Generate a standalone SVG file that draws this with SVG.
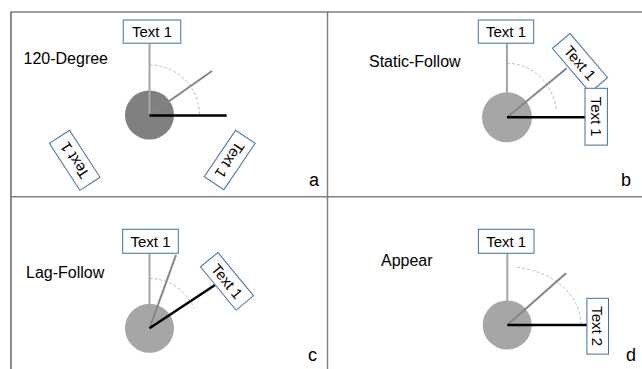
<svg xmlns="http://www.w3.org/2000/svg" width="642" height="369" viewBox="0 0 642 369">
<style>
text{font-family:"Liberation Sans",Arial,sans-serif;fill:#000}
.lbl{font-size:16px}
.tag{font-size:18px}
.bt{font-size:15px;text-anchor:middle}
.box{fill:#fff;stroke:#41719c;stroke-width:1}
.vl{stroke:#a6a6a6;stroke-width:2;fill:none}
.dl{stroke:#858585;stroke-width:2;fill:none}
.bl{stroke:#000;stroke-width:2.5;fill:none}
.arc{stroke:#9dc3e6;stroke-width:1;stroke-dasharray:3 2;fill:none}
.frame{stroke:#404040;stroke-width:1.2;fill:none}
.div{stroke:#808080;stroke-width:1.5;fill:none}
.hub{fill:#a6a6a6}
</style>
<g id="frame">
<path class="frame" d="M11,369 V12 H642"/>
<path class="div" d="M11,196.7 H642 M327.5,12 V369"/>
</g>
<g id="labels">
<text class="lbl" x="23.5" y="64">120-Degree</text>
<text class="lbl" x="369" y="66.5">Static-Follow</text>
<text class="lbl" x="26" y="278">Lag-Follow</text>
<text class="lbl" x="381" y="266">Appear</text>
<text class="tag" x="309" y="186">a</text>
<text class="tag" x="621" y="186">b</text>
<text class="tag" x="308" y="361">c</text>
<text class="tag" x="626" y="361">d</text>
</g>
<g id="hubs">
<circle id="hub-a" cx="149.5" cy="115" r="24.5" fill="#808080"/>
<circle id="hub-b" class="hub" cx="507" cy="117.3" r="25"/>
<circle id="hub-c" class="hub" cx="149.5" cy="328.3" r="24.5"/>
<circle id="hub-d" class="hub" cx="507.2" cy="325" r="24.5"/>
</g>
<g id="connectors">
<path class="arc" d="M149.5,65 A50,50 0 0 1 199.5,114"/>
<line class="vl" x1="149.5" y1="115" x2="149.5" y2="43.3"/>
<line class="dl" x1="149.5" y1="115" x2="212" y2="71"/>
<line class="bl" x1="149.5" y1="115.5" x2="226.7" y2="115.5"/>

<path class="arc" d="M507,63.3 A50,54 0 0 1 556.5,111"/>
<line class="vl" x1="507" y1="117.3" x2="507" y2="43.3"/>
<line class="dl" x1="507" y1="117.3" x2="566.7" y2="68.3"/>
<line class="bl" x1="507" y1="117.3" x2="585" y2="117.3"/>

<path class="arc" d="M149.5,278.3 A50,50 0 0 1 194,308.3"/>
<line class="vl" x1="149.5" y1="328.3" x2="149.5" y2="253.3"/>
<line class="dl" x1="149.5" y1="328.3" x2="176" y2="255"/>
<line class="bl" x1="149.5" y1="328.3" x2="215" y2="285"/>

<path class="arc" d="M517.3,267.4 A74,58 0 0 1 581,323.5"/>
<line class="vl" x1="507.3" y1="325" x2="507.3" y2="253.3"/>
<line class="dl" x1="507.3" y1="325" x2="566" y2="273.3"/>
<line class="bl" x1="507.3" y1="325" x2="587" y2="325"/>
</g>
<g id="a-top" transform="translate(152,31.6)">
<rect class="box" x="-28.8" y="-11.6" width="57.6" height="23.2"/>
<text class="bt" x="0" y="5.3">Text 1</text>
</g>
<g id="a-left" transform="translate(74.7,160.3) rotate(237)">
<rect class="box" x="-28" y="-12" width="56" height="24"/>
<text class="bt" x="0" y="5.3">Text 1</text>
</g>
<g id="a-right" transform="translate(229.7,160) rotate(124)">
<rect class="box" x="-28" y="-11.8" width="56" height="23.6"/>
<text class="bt" x="0" y="5.3">Text 1</text>
</g>
<g id="b-top" transform="translate(506,31.6)">
<rect class="box" x="-27.7" y="-11.6" width="55.4" height="23.2"/>
<text class="bt" x="0" y="5.3">Text 1</text>
</g>
<g id="b-diag" transform="translate(580,63) rotate(49.6)">
<rect class="box" x="-29" y="-11.5" width="58" height="23"/>
<text class="bt" x="0" y="5.3">Text 1</text>
</g>
<g id="b-right" transform="translate(596.2,116.7) rotate(90)">
<rect class="box" x="-28.4" y="-11.2" width="56.8" height="22.4"/>
<text class="bt" x="0" y="5.3">Text 1</text>
</g>
<g id="c-top" transform="translate(150.5,241.3)">
<rect class="box" x="-27.8" y="-12" width="55.6" height="24"/>
<text class="bt" x="0" y="5.3">Text 1</text>
</g>
<g id="c-diag" transform="translate(227,281.3) rotate(50.5)">
<rect class="box" x="-28" y="-11.3" width="56" height="22.6"/>
<text class="bt" x="0" y="5.3">Text 1</text>
</g>
<g id="d-top" transform="translate(506.2,241.3)">
<rect class="box" x="-27.8" y="-12" width="55.6" height="24"/>
<text class="bt" x="0" y="5.3">Text 1</text>
</g>
<g id="d-right" transform="translate(597.7,326.2) rotate(90)">
<rect class="box" x="-27.9" y="-10.8" width="55.8" height="21.6"/>
<text class="bt" x="0" y="5.3">Text 2</text>
</g>
</svg>
